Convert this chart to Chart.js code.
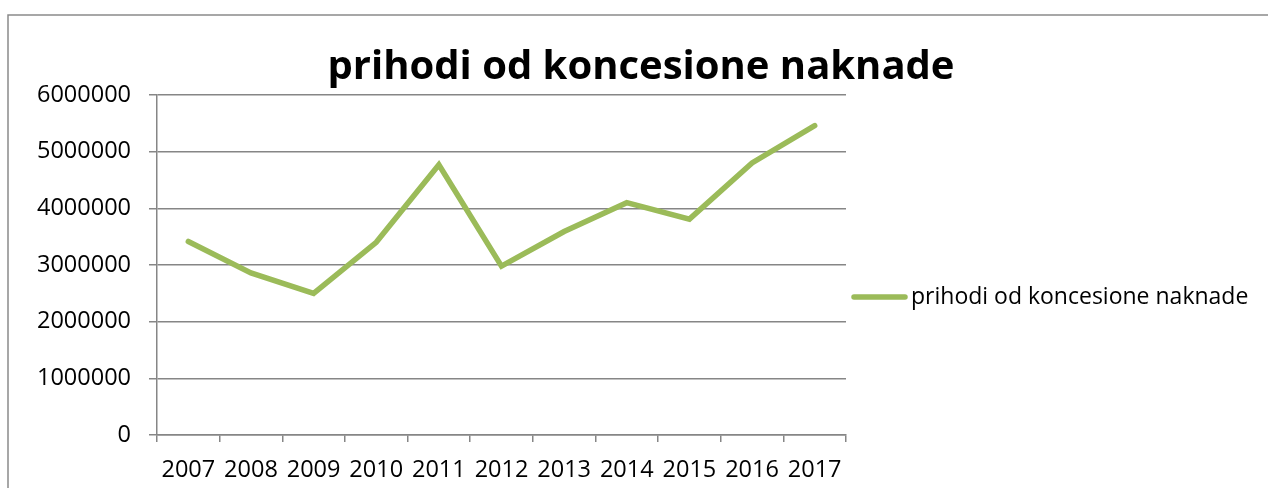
<!DOCTYPE html>
<html>
<head>
<meta charset="utf-8">
<script src="https://cdn.jsdelivr.net/npm/chart.js@4.4.1/dist/chart.umd.min.js"></script>
<style>
  html, body { margin: 0; padding: 0; background: #fff; }
  #wrap { width: 1268px; height: 488px; }
</style>
</head>
<body>
<div id="wrap"><canvas id="c" width="1268" height="488"></canvas></div>
<script>
const years = ['2007', '2008', '2009', '2010', '2011', '2012', '2013', '2014', '2015', '2016', '2017'];
const prihodi = [3415000, 2860000, 2500000, 3400000, 4770000, 2980000, 3590000, 4100000, 3810000, 4800000, 5460000];
const seriesName = 'prihodi od koncesione naknade';
const chartTitle = 'prihodi od koncesione naknade';
const yTicks = [0, 1000000, 2000000, 3000000, 4000000, 5000000, 6000000];

const green = '#9BBB59';
const gridGray = '#868686';
const font = 'Open Sans';

// outer frame + legend drawn by hand (Excel style legend sits right of plot)
const frame = {
  id: 'frame',
  beforeDraw(chart) {
    const ctx = chart.ctx;
    ctx.save();
    ctx.strokeStyle = '#8a8a8a';
    ctx.lineWidth = 1.5;
    ctx.beginPath();
    ctx.moveTo(8, 488);
    ctx.lineTo(8, 15);
    ctx.lineTo(1268, 15);
    ctx.stroke();
    ctx.restore();
  },
  afterDraw(chart) {
    const ctx = chart.ctx;
    const a = chart.chartArea;
    const ds = chart.data.datasets[0];
    const x0 = a.right + 8, y0 = 297;
    ctx.save();
    ctx.strokeStyle = ds.borderColor;
    ctx.lineWidth = 5.5;
    ctx.lineCap = 'round';
    ctx.beginPath();
    ctx.moveTo(x0, y0);
    ctx.lineTo(x0 + 51, y0);
    ctx.stroke();
    ctx.fillStyle = '#000';
    ctx.font = '23px "' + font + '"';
    ctx.textBaseline = 'middle';
    ctx.fillText(ds.label, x0 + 57, y0);
    ctx.restore();
  }
};

new Chart(document.getElementById('c'), {
  type: 'line',
  data: {
    labels: years,
    datasets: [{
      label: seriesName,
      data: prihodi,
      borderColor: green,
      backgroundColor: green,
      borderWidth: 5.5,
      pointRadius: 0,
      fill: false,
      tension: 0,
      borderCapStyle: 'round',
      yAxisID: 'y',
    }],
  },
  options: {
    responsive: false,
    animation: false,
    layout: { padding: { left: 14, top: 15, right: 0, bottom: 0 } },
    plugins: {
      legend: { display: false },
      tooltip: { enabled: false },
      title: {
        display: true,
        text: chartTitle,
        color: '#000',
        font: { family: font, size: 40, weight: 'bold', lineHeight: 1.2 },
        padding: { top: 29, bottom: 3 },
      },
    },
    scales: {
      x: {
        offset: true,
        grid: { offset: true, drawOnChartArea: false, drawTicks: true, tickLength: 7, color: gridGray, lineWidth: 1.5 },
        border: { display: true, color: gridGray, width: 1.5 },
        ticks: { color: '#000', font: { family: font, size: 23.5 }, padding: 14, maxRotation: 0, autoSkip: false },
        afterFit(s) { s.height = 53; },
      },
      y: {
        min: 0,
        max: 6000000,
        afterBuildTicks(s) { s.ticks = yTicks.map(v => ({ value: v })); },
        grid: { color: gridGray, lineWidth: 1.5, tickLength: 8 },
        border: { display: true, color: gridGray, width: 1.5 },
        ticks: { color: '#000', font: { family: font, size: 23.5 }, padding: 18, callback: v => String(v) },
        afterFit(s) { s.width = 143; },
      },
      // empty right axis just reserves room for the legend
      yr: {
        type: 'linear',
        position: 'right',
        grid: { display: false },
        border: { display: false },
        ticks: { display: false },
        afterFit(s) { s.width = 422; },
      },
    },
  },
  plugins: [frame],
});
</script>
</body>
</html>
